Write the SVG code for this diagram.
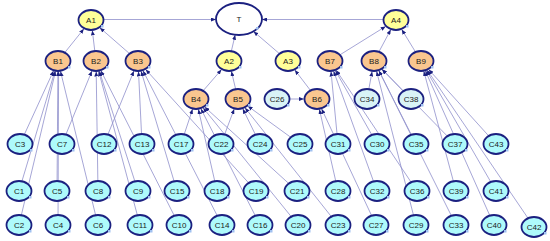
<svg xmlns="http://www.w3.org/2000/svg" width="550" height="241" viewBox="0 0 550 241">
<style>
.e{stroke:#8f8fcc;stroke-width:0.8;fill:none;marker-end:url(#ah)}
.n ellipse{stroke:#1b2080;stroke-width:1.8}
.a ellipse{fill:#ffff99}
.b ellipse{fill:#fac68f}
.c ellipse{fill:#aefafb}
.p ellipse{fill:#d9f3f6}
.t ellipse{fill:#ffffff}
.n text{font-family:"Liberation Sans",Arial,sans-serif;font-size:8px;fill:#1a1a1a;text-anchor:middle}
.n rect{fill:#9fc0f0}
</style>
<defs>
<marker id="ah" markerWidth="5" markerHeight="4" refX="5" refY="2" orient="auto" markerUnits="userSpaceOnUse">
<path d="M0,0 L5,2 L0,4 z" fill="#1b2080"/>
</marker>
</defs>
<g id="connectors">
<line class="e" x1="103.5" y1="19.5" x2="216" y2="19.5"/>
<line class="e" x1="383.5" y1="19.5" x2="262" y2="19.5"/>
<line class="e" x1="229" y1="61" x2="235.2" y2="34.8"/>
<line class="e" x1="288" y1="61" x2="253.5" y2="31.4"/>
<line class="e" x1="58" y1="61" x2="83.9" y2="28.8"/>
<line class="e" x1="96" y1="61" x2="92.3" y2="30.4"/>
<line class="e" x1="138" y1="61" x2="99.8" y2="27.7"/>
<line class="e" x1="196" y1="99" x2="221.5" y2="69.6"/>
<line class="e" x1="238" y1="99" x2="231.4" y2="71.3"/>
<line class="e" x1="317" y1="99" x2="294.8" y2="69.9"/>
<line class="e" x1="330" y1="61" x2="385.7" y2="26.4"/>
<line class="e" x1="374" y1="61" x2="390.8" y2="29.6"/>
<line class="e" x1="421" y1="61" x2="401.7" y2="29.4"/>
<line class="e" x1="290" y1="99" x2="304" y2="99"/>
<line class="e" x1="20" y1="144" x2="53.5" y2="70.8"/>
<line class="e" x1="19" y1="191" x2="54.9" y2="71.2"/>
<line class="e" x1="19" y1="225" x2="55.5" y2="71.3"/>
<line class="e" x1="57" y1="191" x2="57.9" y2="71.5"/>
<line class="e" x1="58" y1="225" x2="58.6" y2="71.5"/>
<line class="e" x1="98" y1="225" x2="60.5" y2="71.3"/>
<line class="e" x1="62" y1="144" x2="91.9" y2="71"/>
<line class="e" x1="98" y1="191" x2="96.2" y2="71.5"/>
<line class="e" x1="138" y1="191" x2="99.3" y2="71.1"/>
<line class="e" x1="140" y1="225" x2="98.7" y2="71.3"/>
<line class="e" x1="179" y1="225" x2="100.9" y2="70.7"/>
<line class="e" x1="104" y1="144" x2="133.9" y2="71"/>
<line class="e" x1="142" y1="144" x2="138.5" y2="71.5"/>
<line class="e" x1="177" y1="191" x2="141.1" y2="71.2"/>
<line class="e" x1="222" y1="225" x2="143" y2="70.7"/>
<line class="e" x1="256" y1="191" x2="145.7" y2="69.5"/>
<line class="e" x1="181" y1="144" x2="192.6" y2="109.1"/>
<line class="e" x1="217" y1="191" x2="198.4" y2="109.3"/>
<line class="e" x1="260" y1="225" x2="200.9" y2="108.7"/>
<line class="e" x1="297" y1="191" x2="204.6" y2="106.9"/>
<line class="e" x1="298" y1="225" x2="203.1" y2="107.8"/>
<line class="e" x1="221" y1="144" x2="234.2" y2="109"/>
<line class="e" x1="260" y1="144" x2="242.8" y2="108.8"/>
<line class="e" x1="300" y1="144" x2="247.7" y2="106"/>
<line class="e" x1="338" y1="225" x2="245" y2="107.8"/>
<line class="e" x1="338" y1="191" x2="319.4" y2="109.3"/>
<line class="e" x1="376" y1="225" x2="321.6" y2="108.8"/>
<line class="e" x1="338" y1="144" x2="331" y2="71.5"/>
<line class="e" x1="377" y1="144" x2="335.4" y2="70.5"/>
<line class="e" x1="377" y1="191" x2="333.6" y2="71.1"/>
<line class="e" x1="417" y1="191" x2="336.2" y2="70.2"/>
<line class="e" x1="367" y1="99" x2="372.1" y2="71.4"/>
<line class="e" x1="411" y1="99" x2="382" y2="69.2"/>
<line class="e" x1="416" y1="144" x2="378.9" y2="70.7"/>
<line class="e" x1="416" y1="225" x2="376.6" y2="71.3"/>
<line class="e" x1="456" y1="225" x2="378.9" y2="70.7"/>
<line class="e" x1="455" y1="144" x2="382" y2="69.2"/>
<line class="e" x1="456" y1="191" x2="423.8" y2="71.2"/>
<line class="e" x1="494" y1="225" x2="425.4" y2="70.9"/>
<line class="e" x1="496" y1="191" x2="426.5" y2="70.5"/>
<line class="e" x1="496" y1="144" x2="428.7" y2="69.5"/>
<line class="e" x1="534" y1="227" x2="427.3" y2="70.2"/>
</g>
<g id="T" class="n t"><ellipse cx="239" cy="19" rx="23" ry="16"/><rect x="256" y="27" width="2.5" height="2.5"/><text x="239" y="22">T</text></g>
<g id="A1" class="n a"><ellipse cx="91" cy="20" rx="12.5" ry="10"/><rect x="101" y="25" width="2.5" height="2.5"/><text x="91" y="23">A1</text></g>
<g id="A4" class="n a"><ellipse cx="396" cy="20" rx="12.5" ry="10"/><rect x="406" y="25" width="2.5" height="2.5"/><text x="396" y="23">A4</text></g>
<g id="A2" class="n a"><ellipse cx="229" cy="61" rx="12.5" ry="10"/><rect x="239" y="66" width="2.5" height="2.5"/><text x="229" y="64">A2</text></g>
<g id="A3" class="n a"><ellipse cx="288" cy="61" rx="12.5" ry="10"/><rect x="298" y="66" width="2.5" height="2.5"/><text x="288" y="64">A3</text></g>
<g id="B1" class="n b"><ellipse cx="58" cy="61" rx="12.5" ry="10"/><rect x="68" y="66" width="2.5" height="2.5"/><text x="58" y="64">B1</text></g>
<g id="B2" class="n b"><ellipse cx="96" cy="61" rx="12.5" ry="10"/><rect x="106" y="66" width="2.5" height="2.5"/><text x="96" y="64">B2</text></g>
<g id="B3" class="n b"><ellipse cx="138" cy="61" rx="12.5" ry="10"/><rect x="148" y="66" width="2.5" height="2.5"/><text x="138" y="64">B3</text></g>
<g id="B7" class="n b"><ellipse cx="330" cy="61" rx="12.5" ry="10"/><rect x="340" y="66" width="2.5" height="2.5"/><text x="330" y="64">B7</text></g>
<g id="B8" class="n b"><ellipse cx="374" cy="61" rx="12.5" ry="10"/><rect x="384" y="66" width="2.5" height="2.5"/><text x="374" y="64">B8</text></g>
<g id="B9" class="n b"><ellipse cx="421" cy="61" rx="12.5" ry="10"/><rect x="431" y="66" width="2.5" height="2.5"/><text x="421" y="64">B9</text></g>
<g id="B4" class="n b"><ellipse cx="196" cy="99" rx="12.5" ry="10"/><rect x="206" y="104" width="2.5" height="2.5"/><text x="196" y="102">B4</text></g>
<g id="B5" class="n b"><ellipse cx="238" cy="99" rx="12.5" ry="10"/><rect x="248" y="104" width="2.5" height="2.5"/><text x="238" y="102">B5</text></g>
<g id="B6" class="n b"><ellipse cx="317" cy="99" rx="12.5" ry="10"/><rect x="327" y="104" width="2.5" height="2.5"/><text x="317" y="102">B6</text></g>
<g id="C26" class="n p"><ellipse cx="277" cy="99" rx="12.5" ry="10"/><rect x="287" y="104" width="2.5" height="2.5"/><text x="277" y="102">C26</text></g>
<g id="C34" class="n p"><ellipse cx="367" cy="99" rx="12.5" ry="10"/><rect x="377" y="104" width="2.5" height="2.5"/><text x="367" y="102">C34</text></g>
<g id="C38" class="n p"><ellipse cx="411" cy="99" rx="12.5" ry="10"/><rect x="421" y="104" width="2.5" height="2.5"/><text x="411" y="102">C38</text></g>
<g id="C3" class="n c"><ellipse cx="20" cy="144" rx="12.5" ry="10"/><rect x="30" y="149" width="2.5" height="2.5"/><text x="20" y="147">C3</text></g>
<g id="C7" class="n c"><ellipse cx="62" cy="144" rx="12.5" ry="10"/><rect x="72" y="149" width="2.5" height="2.5"/><text x="62" y="147">C7</text></g>
<g id="C12" class="n c"><ellipse cx="104" cy="144" rx="12.5" ry="10"/><rect x="114" y="149" width="2.5" height="2.5"/><text x="104" y="147">C12</text></g>
<g id="C13" class="n c"><ellipse cx="142" cy="144" rx="12.5" ry="10"/><rect x="152" y="149" width="2.5" height="2.5"/><text x="142" y="147">C13</text></g>
<g id="C17" class="n c"><ellipse cx="181" cy="144" rx="12.5" ry="10"/><rect x="191" y="149" width="2.5" height="2.5"/><text x="181" y="147">C17</text></g>
<g id="C22" class="n c"><ellipse cx="221" cy="144" rx="12.5" ry="10"/><rect x="231" y="149" width="2.5" height="2.5"/><text x="221" y="147">C22</text></g>
<g id="C24" class="n c"><ellipse cx="260" cy="144" rx="12.5" ry="10"/><rect x="270" y="149" width="2.5" height="2.5"/><text x="260" y="147">C24</text></g>
<g id="C25" class="n c"><ellipse cx="300" cy="144" rx="12.5" ry="10"/><rect x="310" y="149" width="2.5" height="2.5"/><text x="300" y="147">C25</text></g>
<g id="C31" class="n c"><ellipse cx="338" cy="144" rx="12.5" ry="10"/><rect x="348" y="149" width="2.5" height="2.5"/><text x="338" y="147">C31</text></g>
<g id="C30" class="n c"><ellipse cx="377" cy="144" rx="12.5" ry="10"/><rect x="387" y="149" width="2.5" height="2.5"/><text x="377" y="147">C30</text></g>
<g id="C35" class="n c"><ellipse cx="416" cy="144" rx="12.5" ry="10"/><rect x="426" y="149" width="2.5" height="2.5"/><text x="416" y="147">C35</text></g>
<g id="C37" class="n c"><ellipse cx="455" cy="144" rx="12.5" ry="10"/><rect x="465" y="149" width="2.5" height="2.5"/><text x="455" y="147">C37</text></g>
<g id="C43" class="n c"><ellipse cx="496" cy="144" rx="12.5" ry="10"/><rect x="506" y="149" width="2.5" height="2.5"/><text x="496" y="147">C43</text></g>
<g id="C1" class="n c"><ellipse cx="19" cy="191" rx="12.5" ry="10"/><rect x="29" y="196" width="2.5" height="2.5"/><text x="19" y="194">C1</text></g>
<g id="C5" class="n c"><ellipse cx="57" cy="191" rx="12.5" ry="10"/><rect x="67" y="196" width="2.5" height="2.5"/><text x="57" y="194">C5</text></g>
<g id="C8" class="n c"><ellipse cx="98" cy="191" rx="12.5" ry="10"/><rect x="108" y="196" width="2.5" height="2.5"/><text x="98" y="194">C8</text></g>
<g id="C9" class="n c"><ellipse cx="138" cy="191" rx="12.5" ry="10"/><rect x="148" y="196" width="2.5" height="2.5"/><text x="138" y="194">C9</text></g>
<g id="C15" class="n c"><ellipse cx="177" cy="191" rx="12.5" ry="10"/><rect x="187" y="196" width="2.5" height="2.5"/><text x="177" y="194">C15</text></g>
<g id="C18" class="n c"><ellipse cx="217" cy="191" rx="12.5" ry="10"/><rect x="227" y="196" width="2.5" height="2.5"/><text x="217" y="194">C18</text></g>
<g id="C19" class="n c"><ellipse cx="256" cy="191" rx="12.5" ry="10"/><rect x="266" y="196" width="2.5" height="2.5"/><text x="256" y="194">C19</text></g>
<g id="C21" class="n c"><ellipse cx="297" cy="191" rx="12.5" ry="10"/><rect x="307" y="196" width="2.5" height="2.5"/><text x="297" y="194">C21</text></g>
<g id="C28" class="n c"><ellipse cx="338" cy="191" rx="12.5" ry="10"/><rect x="348" y="196" width="2.5" height="2.5"/><text x="338" y="194">C28</text></g>
<g id="C32" class="n c"><ellipse cx="377" cy="191" rx="12.5" ry="10"/><rect x="387" y="196" width="2.5" height="2.5"/><text x="377" y="194">C32</text></g>
<g id="C36" class="n c"><ellipse cx="417" cy="191" rx="12.5" ry="10"/><rect x="427" y="196" width="2.5" height="2.5"/><text x="417" y="194">C36</text></g>
<g id="C39" class="n c"><ellipse cx="456" cy="191" rx="12.5" ry="10"/><rect x="466" y="196" width="2.5" height="2.5"/><text x="456" y="194">C39</text></g>
<g id="C41" class="n c"><ellipse cx="496" cy="191" rx="12.5" ry="10"/><rect x="506" y="196" width="2.5" height="2.5"/><text x="496" y="194">C41</text></g>
<g id="C2" class="n c"><ellipse cx="19" cy="225" rx="12.5" ry="10"/><rect x="29" y="230" width="2.5" height="2.5"/><text x="19" y="228">C2</text></g>
<g id="C4" class="n c"><ellipse cx="58" cy="225" rx="12.5" ry="10"/><rect x="68" y="230" width="2.5" height="2.5"/><text x="58" y="228">C4</text></g>
<g id="C6" class="n c"><ellipse cx="98" cy="225" rx="12.5" ry="10"/><rect x="108" y="230" width="2.5" height="2.5"/><text x="98" y="228">C6</text></g>
<g id="C11" class="n c"><ellipse cx="140" cy="225" rx="12.5" ry="10"/><rect x="150" y="230" width="2.5" height="2.5"/><text x="140" y="228">C11</text></g>
<g id="C10" class="n c"><ellipse cx="179" cy="225" rx="12.5" ry="10"/><rect x="189" y="230" width="2.5" height="2.5"/><text x="179" y="228">C10</text></g>
<g id="C14" class="n c"><ellipse cx="222" cy="225" rx="12.5" ry="10"/><rect x="232" y="230" width="2.5" height="2.5"/><text x="222" y="228">C14</text></g>
<g id="C16" class="n c"><ellipse cx="260" cy="225" rx="12.5" ry="10"/><rect x="270" y="230" width="2.5" height="2.5"/><text x="260" y="228">C16</text></g>
<g id="C20" class="n c"><ellipse cx="298" cy="225" rx="12.5" ry="10"/><rect x="308" y="230" width="2.5" height="2.5"/><text x="298" y="228">C20</text></g>
<g id="C23" class="n c"><ellipse cx="338" cy="225" rx="12.5" ry="10"/><rect x="348" y="230" width="2.5" height="2.5"/><text x="338" y="228">C23</text></g>
<g id="C27" class="n c"><ellipse cx="376" cy="225" rx="12.5" ry="10"/><rect x="386" y="230" width="2.5" height="2.5"/><text x="376" y="228">C27</text></g>
<g id="C29" class="n c"><ellipse cx="416" cy="225" rx="12.5" ry="10"/><rect x="426" y="230" width="2.5" height="2.5"/><text x="416" y="228">C29</text></g>
<g id="C33" class="n c"><ellipse cx="456" cy="225" rx="12.5" ry="10"/><rect x="466" y="230" width="2.5" height="2.5"/><text x="456" y="228">C33</text></g>
<g id="C40" class="n c"><ellipse cx="494" cy="225" rx="12.5" ry="10"/><rect x="504" y="230" width="2.5" height="2.5"/><text x="494" y="228">C40</text></g>
<g id="C42" class="n c"><ellipse cx="534" cy="227" rx="12.5" ry="10"/><rect x="544" y="232" width="2.5" height="2.5"/><text x="534" y="230">C42</text></g>
</svg>
